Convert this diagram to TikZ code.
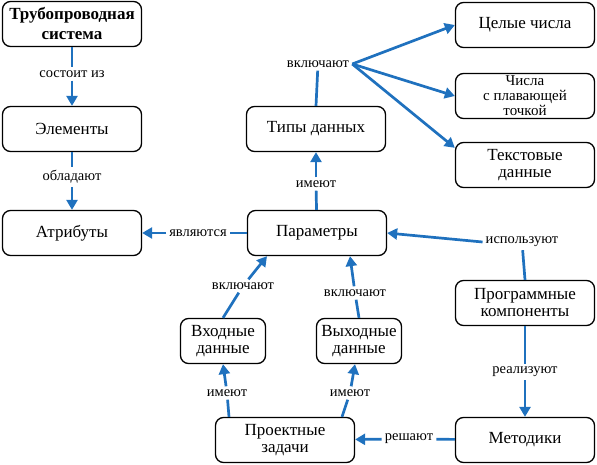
\documentclass[tikz,border=0pt]{standalone}
\usepackage{fontspec}
\setmainfont{Liberation Serif}
\usetikzlibrary{arrows.meta}
\definecolor{linkblue}{RGB}{31,113,190}

\begin{document}
\begin{tikzpicture}[x=1pt,y=-1pt,
  box/.style={rectangle,draw,line width=1.3pt,rounded corners=8pt,minimum width=139pt,minimum height=45pt,inner sep=2pt,align=center,font=\fontsize{17}{17}\selectfont},
  smallbox/.style={box,minimum width=85pt},
  lbl/.style={inner sep=3pt,font=\fontsize{14.5}{15}\selectfont},
  seg/.style={draw=linkblue,line width=2.7pt},
  arr/.style={seg,-{Triangle[width=11pt,length=10pt]}},
]
\useasboundingbox (0,0) rectangle (597,465);

% Boxes
\node[box,font=\fontsize{17}{20}\selectfont\bfseries] (sys) at (72,24) {Трубопроводная\\система};
\node[box] (elem)  at (72,129)  {Элементы};
\node[box] (attr)  at (72,233)  {Атрибуты};
\node[box] (types) at (316,129) {Типы данных};
\node[box] (params) at (317,233) {Параметры};
\node[box] (ints)  at (525,25)  {Целые числа};
\node[box,inner sep=0pt,font=\fontsize{15}{15}\selectfont] (floats) at (525,96) {Числа\\с плавающей\\точкой};
\node[box] (texts) at (525,165) {Текстовые\\данные};
\node[box] (progc) at (525,303) {Программные\\компоненты};
\node[smallbox] (inp)  at (223,341) {Входные\\данные};
\node[smallbox] (outp) at (359,341) {Выходные\\данные};
\node[box] (tasks) at (285,440) {Проектные\\задачи};
\node[box] (meth)  at (525,440) {Методики};

% Link labels
\node[lbl] (lSost)  at (72,74)   {состоит из};
\node[lbl] (lObl)   at (72,177)  {обладают};
\node[lbl] (lYavl)  at (198,233) {являются};
\node[lbl] (lImT)   at (316,184) {имеют};
\node[lbl] (lVklT)  at (318,64)  {включают};
\node[lbl] (lIsp)   at (522,242) {используют};
\node[lbl] (lVklIn) at (243,286) {включают};
\node[lbl] (lVklOut) at (355,293) {включают};
\node[lbl] (lImIn)  at (227,393) {имеют};
\node[lbl] (lImOut) at (350,393) {имеют};
\node[lbl] (lResh)  at (409,439) {решают};
\node[lbl] (lReal)  at (525,372) {реализуют};

% Links
\draw[seg] (sys) -- (lSost);
\draw[arr] (lSost) -- (elem);
\draw[seg] (elem) -- (lObl);
\draw[arr] (lObl) -- (attr);
\draw[seg] (params) -- (lYavl);
\draw[arr] (lYavl) -- (attr);
\draw[seg] (params) -- (lImT);
\draw[arr] (lImT) -- (types);
\draw[seg] (types.north) -- (lVklT);
\draw[arr] (lVklT.east) -- (ints.west);
\draw[arr] (lVklT.east) -- (floats.west);
\draw[arr] (lVklT.east) -- ([yshift=-6pt]texts.north west);
\draw[seg] (progc.north) -- (lIsp);
\draw[arr] (lIsp.west) -- (params.east);
\draw[seg] (inp.north) -- (lVklIn);
\draw[arr] (lVklIn) -- ([xshift=-50pt]params.south);
\draw[seg] (outp.north) -- (lVklOut);
\draw[arr] (lVklOut) -- ([xshift=33pt]params.south);
\draw[seg] ([xshift=-56pt]tasks.north) -- (lImIn);
\draw[arr] (lImIn) -- (inp.south);
\draw[seg] ([xshift=57pt]tasks.north) -- (lImOut);
\draw[arr] (lImOut) -- ([xshift=-4pt]outp.south);
\draw[seg] (meth) -- (lResh);
\draw[arr] (lResh) -- (tasks);
\draw[seg] (progc) -- (lReal);
\draw[arr] (lReal) -- (meth);

\end{tikzpicture}
\end{document}
